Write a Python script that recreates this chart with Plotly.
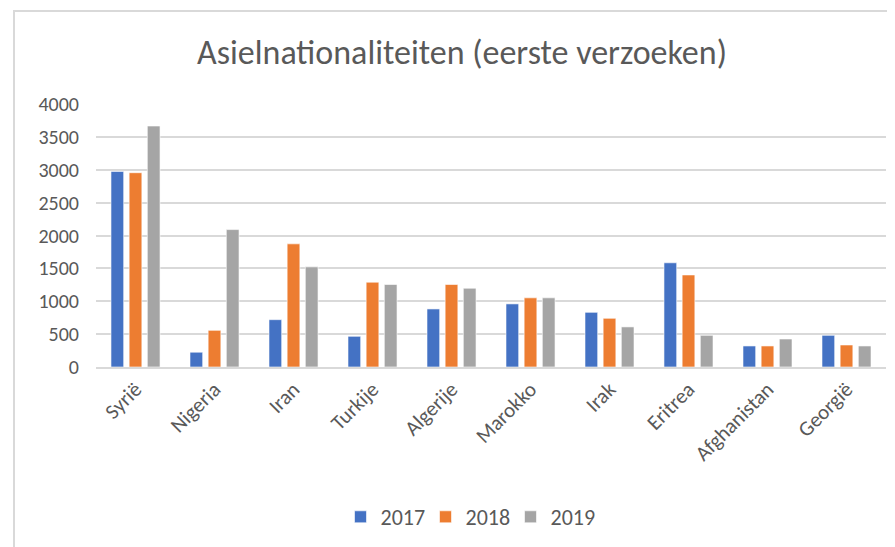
import plotly.graph_objects as go

categories = ["Syrië", "Nigeria", "Iran", "Turkije", "Algerije", "Marokko",
              "Irak", "Eritrea", "Afghanistan", "Georgië"]
v2017 = [2975, 225, 720, 467, 883, 960, 832, 1585, 320, 482]
v2018 = [2955, 558, 1873, 1290, 1255, 1052, 741, 1400, 320, 335]
v2019 = [3665, 2090, 1523, 1255, 1198, 1052, 610, 482, 426, 320]
years = ["2017", "2018", "2019"]
colors = ["#4472C4", "#ED7D31", "#A5A5A5"]
y_ticks = [0, 500, 1000, 1500, 2000, 2500, 3000, 3500, 4000]

FONT = "Carlito, Calibri, 'Liberation Sans Narrow', 'Open Sans', sans-serif"

fig = go.Figure()
for name, vals, col in zip(years, [v2017, v2018, v2019], colors):
    fig.add_trace(go.Bar(x=categories, y=vals, name=name,
                         marker=dict(color=col, line=dict(color="white", width=0.6))))

# page body has an 8px margin; work in page pixels and convert
OFF = 8
W, H = 895 - OFF, 547 - OFF
L = 96 - OFF
T = 104 - OFF
R = W - (886 - OFF)
B = H - (367 - OFF)
pw = W - L - R
ph = H - T - B

def px_x(x):
    return (x - OFF - L) / pw

def px_y(y):
    return (H - B - (y - OFF)) / ph

fig.update_layout(
    width=W, height=H,
    margin=dict(l=L, r=R, t=T, b=B),
    paper_bgcolor="white", plot_bgcolor="white",
    barmode="group", bargap=0.31, bargroupgap=0.3,
    font=dict(family=FONT, color="#595959", size=20),
    title=dict(text="Asielnationaliteiten (eerste verzoeken)",
               x=px_x(462), xref="paper", xanchor="center",
               y=1 - (52 - OFF) / H, yref="container", yanchor="middle",
               font=dict(family=FONT, size=34, color="#595959")),
    legend=dict(orientation="h", x=px_x(468), xanchor="center",
                y=px_y(517), yanchor="middle",
                font=dict(size=22, color="#595959"), itemwidth=30,
                entrywidth=40, entrywidthmode="pixels",
                traceorder="normal"),
    xaxis=dict(tickangle=-45, showgrid=False, showline=True,
               linecolor="#D9D9D9", linewidth=1.5, ticks="",
               tickfont=dict(size=21, color="#595959")),
    yaxis=dict(range=[0, 4000], tickvals=y_ticks, showgrid=True,
               gridcolor="#D9D9D9", gridwidth=1.5, zeroline=False,
               showline=False, ticks="", ticklabelstandoff=16,
               tickfont=dict(size=20, color="#595959")),
    shapes=[dict(type="rect", xref="paper", yref="paper",
                 x0=px_x(14), x1=px_x(905), y0=px_y(560), y1=px_y(11),
                 line=dict(color="#D9D9D9", width=2), layer="below")],
)

fig.write_html("out.html")
